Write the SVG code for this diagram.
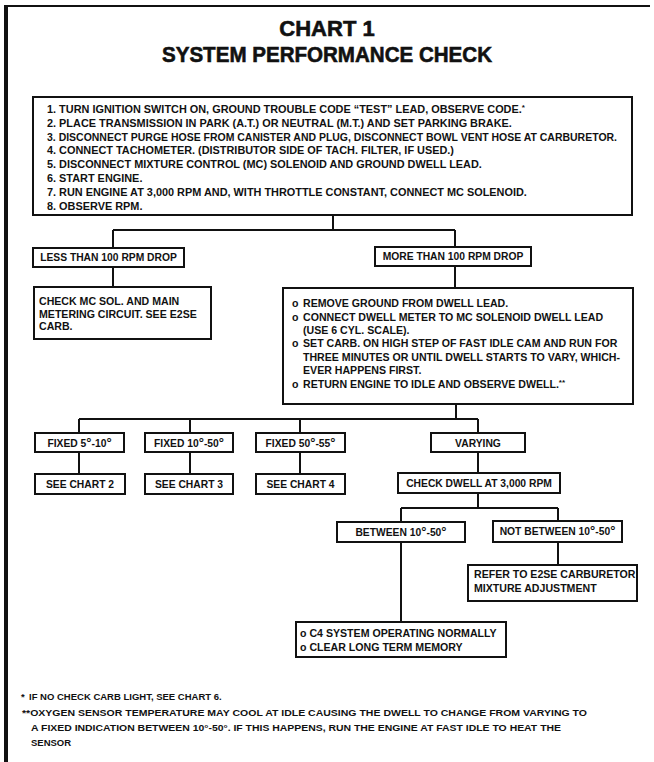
<svg xmlns="http://www.w3.org/2000/svg" width="654" height="762" viewBox="0 0 654 762">
  <style>
    .frame { stroke: #111; fill: none; }
    .box { fill: #fff; stroke: #111; stroke-width: 2; }
    .wire { stroke: #111; stroke-width: 2; fill: none; }
    .title { font-family: "Liberation Sans", Arial, sans-serif; font-weight: 700; font-size: 22px; fill: #111; stroke: #111; stroke-width: 0.6; text-anchor: middle; }
    .body { font-family: "Liberation Sans", Arial, sans-serif; font-weight: 700; font-size: 10.6px; fill: #111; }
    .steps { font-size: 10.9px; }
    .lbl { font-family: "Liberation Sans", Arial, sans-serif; font-weight: 700; font-size: 10.3px; fill: #111; text-anchor: middle; }
    .deg { font-size: 13px; }
    .note { font-family: "Liberation Sans", Arial, sans-serif; font-weight: 700; font-size: 9.5px; fill: #111; }
  </style>

  <rect width="654" height="762" fill="#fff"/>

  <!-- page frame: top rule and heavy left rule -->
  <line class="frame" x1="5" y1="6" x2="650" y2="6" stroke-width="2"/>
  <line class="frame" x1="6" y1="5" x2="6" y2="762" stroke-width="4"/>

  <!-- heading -->
  <g id="heading">
    <text class="title" x="327" y="36">CHART 1</text>
    <text class="title" x="327" y="62" textLength="330" lengthAdjust="spacingAndGlyphs">SYSTEM PERFORMANCE CHECK</text>
  </g>

  <!-- connectors -->
  <g id="connectors">
    <path class="wire" d="M333 215 V230 M113 230 H455 M113 230 V248 M455 230 V247"/>
    <path class="wire" d="M113 267 V287"/>
    <path class="wire" d="M455 266 V288"/>
    <path class="wire" d="M456 404 V419 M79 419 H478 M79 419 V433 M190 419 V433 M300 419 V433 M478 419 V433"/>
    <path class="wire" d="M79 452 V474 M190 452 V474 M300 452 V474"/>
    <path class="wire" d="M478 452 V473"/>
    <path class="wire" d="M478 493 V508 M401 508 H558 M401 508 V522 M558 508 V521"/>
    <path class="wire" d="M558 542 V565"/>
    <path class="wire" d="M401 542 V622"/>
  </g>

  <!-- step list -->
  <g id="steps">
    <rect class="box" x="33" y="97" width="599" height="118"/>
    <text class="body steps" x="47" y="113">1. TURN IGNITION SWITCH ON, GROUND TROUBLE CODE “TEST” LEAD, OBSERVE CODE.<tspan dy="-3" font-size="8">*</tspan></text>
    <text class="body steps" x="47" y="126.8">2. PLACE TRANSMISSION IN PARK (A.T.) OR NEUTRAL (M.T.) AND SET PARKING BRAKE.</text>
    <text class="body steps" x="47" y="140.6" textLength="570" lengthAdjust="spacingAndGlyphs">3. DISCONNECT PURGE HOSE FROM CANISTER AND PLUG, DISCONNECT BOWL VENT HOSE AT CARBURETOR.</text>
    <text class="body steps" x="47" y="154.4">4. CONNECT TACHOMETER. (DISTRIBUTOR SIDE OF TACH. FILTER, IF USED.)</text>
    <text class="body steps" x="47" y="168.2">5. DISCONNECT MIXTURE CONTROL (MC) SOLENOID AND GROUND DWELL LEAD.</text>
    <text class="body steps" x="47" y="182">6. START ENGINE.</text>
    <text class="body steps" x="47" y="195.8">7. RUN ENGINE AT 3,000 RPM AND, WITH THROTTLE CONSTANT, CONNECT MC SOLENOID.</text>
    <text class="body steps" x="47" y="209.6">8. OBSERVE RPM.</text>
  </g>

  <g id="less-drop">
    <rect class="box" x="33" y="248" width="151" height="19"/>
    <text class="lbl" x="108.5" y="261.3" font-size="10">LESS THAN 100 RPM DROP</text>
  </g>

  <g id="more-drop">
    <rect class="box" x="375" y="247" width="156" height="19"/>
    <text class="lbl" x="453" y="260.3" font-size="10">MORE THAN 100 RPM DROP</text>
  </g>

  <g id="check-mc">
    <rect class="box" x="34" y="287" width="177" height="52"/>
    <text class="body" x="39" y="305">CHECK MC SOL. AND MAIN</text>
    <text class="body" x="39" y="317.5">METERING CIRCUIT. SEE E2SE</text>
    <text class="body" x="39" y="330">CARB.</text>
  </g>

  <g id="dwell-setup">
    <rect class="box" x="283" y="288" width="350" height="116"/>
    <text class="body" x="292" y="307">o</text>
    <text class="body" x="303" y="307">REMOVE GROUND FROM DWELL LEAD.</text>
    <text class="body" x="292" y="320.7">o</text>
    <text class="body" x="303" y="320.7">CONNECT DWELL METER TO MC SOLENOID DWELL LEAD</text>
    <text class="body" x="303" y="334">(USE 6 CYL. SCALE).</text>
    <text class="body" x="292" y="347.4">o</text>
    <text class="body" x="303" y="347.4">SET CARB. ON HIGH STEP OF FAST IDLE CAM AND RUN FOR</text>
    <text class="body" x="303" y="361">THREE MINUTES OR UNTIL DWELL STARTS TO VARY, WHICH-</text>
    <text class="body" x="303" y="374.4">EVER HAPPENS FIRST.</text>
    <text class="body" x="292" y="387.7">o</text>
    <text class="body" x="303" y="387.7">RETURN ENGINE TO IDLE AND OBSERVE DWELL.<tspan dy="-3" font-size="8">**</tspan></text>
  </g>

  <g id="fixed-5-10">
    <rect class="box" x="35" y="433" width="89" height="19"/>
    <text class="lbl" x="79.5" y="446.5">FIXED 5<tspan class="deg">°</tspan>-10<tspan class="deg">°</tspan></text>
  </g>
  <g id="fixed-10-50">
    <rect class="box" x="145" y="433" width="88" height="19"/>
    <text class="lbl" x="189" y="446.5">FIXED 10<tspan class="deg">°</tspan>-50<tspan class="deg">°</tspan></text>
  </g>
  <g id="fixed-50-55">
    <rect class="box" x="256" y="433" width="89" height="19"/>
    <text class="lbl" x="300.5" y="446.5">FIXED 50<tspan class="deg">°</tspan>-55<tspan class="deg">°</tspan></text>
  </g>
  <g id="varying">
    <rect class="box" x="431" y="433" width="94" height="19"/>
    <text class="lbl" x="478" y="446.5" font-size="11">VARYING</text>
  </g>

  <g id="chart-2">
    <rect class="box" x="35" y="474" width="90" height="20"/>
    <text class="lbl" x="80" y="487.8">SEE CHART 2</text>
  </g>
  <g id="chart-3">
    <rect class="box" x="145" y="474" width="88" height="20"/>
    <text class="lbl" x="189" y="487.8">SEE CHART 3</text>
  </g>
  <g id="chart-4">
    <rect class="box" x="256" y="474" width="89" height="20"/>
    <text class="lbl" x="300.5" y="487.8">SEE CHART 4</text>
  </g>

  <g id="check-dwell">
    <rect class="box" x="398" y="473" width="162" height="20"/>
    <text class="lbl" x="479" y="486.8" font-size="10.5">CHECK DWELL AT 3,000 RPM</text>
  </g>

  <g id="between">
    <rect class="box" x="337" y="522" width="128" height="20"/>
    <text class="lbl" x="401" y="535.8">BETWEEN 10<tspan class="deg">°</tspan>-50<tspan class="deg">°</tspan></text>
  </g>
  <g id="not-between">
    <rect class="box" x="493" y="521" width="129" height="21"/>
    <text class="lbl" x="557.5" y="535.3">NOT BETWEEN 10<tspan class="deg">°</tspan>-50<tspan class="deg">°</tspan></text>
  </g>

  <g id="refer-e2se">
    <rect class="box" x="468" y="565" width="169" height="36"/>
    <text class="body" x="474" y="578">REFER TO E2SE CARBURETOR</text>
    <text class="body" x="474" y="592">MIXTURE ADJUSTMENT</text>
  </g>

  <g id="normal">
    <rect class="box" x="296" y="622" width="210" height="35"/>
    <text class="body" x="300" y="636.5" font-size="10.9">o C4 SYSTEM OPERATING NORMALLY</text>
    <text class="body" x="300" y="650.5" font-size="10.9">o CLEAR LONG TERM MEMORY</text>
  </g>

  <!-- footnotes -->
  <g id="notes">
    <text class="note" x="21" y="700">*</text>
    <text class="note" x="29" y="700">IF NO CHECK CARB LIGHT, SEE CHART 6.</text>
    <text class="note" x="22" y="716" textLength="565" lengthAdjust="spacingAndGlyphs">**OXYGEN SENSOR TEMPERATURE MAY COOL AT IDLE CAUSING THE DWELL TO CHANGE FROM VARYING TO</text>
    <text class="note" x="31" y="731" textLength="530" lengthAdjust="spacingAndGlyphs">A FIXED INDICATION BETWEEN 10°-50°. IF THIS HAPPENS, RUN THE ENGINE AT FAST IDLE TO HEAT THE</text>
    <text class="note" x="31" y="746">SENSOR</text>
  </g>
</svg>
